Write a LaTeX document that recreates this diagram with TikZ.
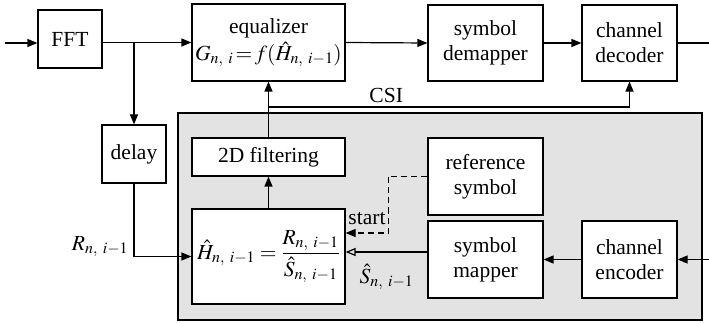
\documentclass[tikz,border=0pt]{standalone}
\usepackage{mathptmx}
\usepackage{fontspec}
\setmainfont{Liberation Serif}
\usetikzlibrary{arrows.meta}
\begin{document}
\begin{tikzpicture}[x=1pt, y=-1pt, line width=1.2pt,
    font=\fontsize{21.5}{25}\selectfont,
    block/.style={draw, fill=white, inner sep=0pt, align=center},
    >={Triangle[length=10pt, width=8pt]}]
    \useasboundingbox (0,0) rectangle (709,323);
    % shaded area
    \draw[fill=black!11] (178,113) rectangle (702,320);
    % blocks
    \node[block, minimum width=64pt, minimum height=58pt] (fft) at (70,39) {FFT};
    \node[block, minimum width=153pt, minimum height=77pt] (eq) at (268.5,42.5) {equalizer\\[2pt]$G_{n,\ i}\!=\!f(\hat{H}_{n,\ i-1})$};
    \node[block, minimum width=115pt, minimum height=76pt] (dem) at (485.5,43) {symbol\\demapper};
    \node[block, minimum width=95pt, minimum height=76pt] (dec) at (629.5,43) {channel\\decoder};
    \node[block, minimum width=64pt, minimum height=58pt] (delay) at (134,154) {delay};
    \node[block, minimum width=153pt, minimum height=38pt] (filt) at (268.5,157) {2D filtering};
    \node[block, minimum width=153pt, minimum height=95pt] (est) at (268.5,256.5) {$\displaystyle\hat{H}_{n,\ i-1}=\frac{R_{n,\ i-1}}{\hat{S}_{n,\ i-1}}$};
    \node[block, minimum width=115pt, minimum height=77pt] (ref) at (485.5,176.5) {reference\\symbol};
    \node[block, minimum width=115pt, minimum height=77pt] (map) at (485.5,259.5) {symbol\\mapper};
    \node[block, minimum width=95pt, minimum height=77pt] (enc) at (629.5,259.5) {channel\\encoder};
    % free ends and branch points
    \coordinate (in) at (5,43);
    \coordinate (out) at (709,43);
    \coordinate (encin) at (709,259.5);
    \coordinate (br) at (134,42.5);
    \coordinate (csi) at (268.5,107);
    % connectors
    \draw[->] (in) -- (fft.west |- in);
    \draw[->] (fft.east |- eq.west) -- (eq.west);
    \draw[->] (br) -- (delay.north);
    \draw[->] (delay.south) |- (est.west) node[pos=0.5, above left, xshift=-2pt, yshift=-4pt] {$R_{n,\ i-1}$};
    \draw[->] (eq.east) -- (dem.west);
    \draw[->] (dem.east) -- (dec.west);
    \draw (dec.east) -- (out);
    \draw[->] (est.north) -- (filt.south);
    \draw[->] (filt.north) -- (eq.south);
    \draw[->] (csi) -| (dec.south) node[pos=0.163, above] {CSI};
    \draw[->] (encin) -- (enc.east);
    \draw[->] (enc.west) -- (map.east);
    \draw[-{Triangle[open, length=10pt, width=8pt]}] ([yshift=7.5pt]map.west) -- ([yshift=7.5pt]map.west -| est.east)
        node[midway, below, yshift=-8pt] {$\hat{S}_{n,\ i-1}$};
    \draw[->, dash pattern=on 6pt off 4pt] (ref.west) -- ++(-39,0) |- ([yshift=23.5pt]est.east)
        node[pos=0.75, above, yshift=4pt] {start};
\end{tikzpicture}
\end{document}
